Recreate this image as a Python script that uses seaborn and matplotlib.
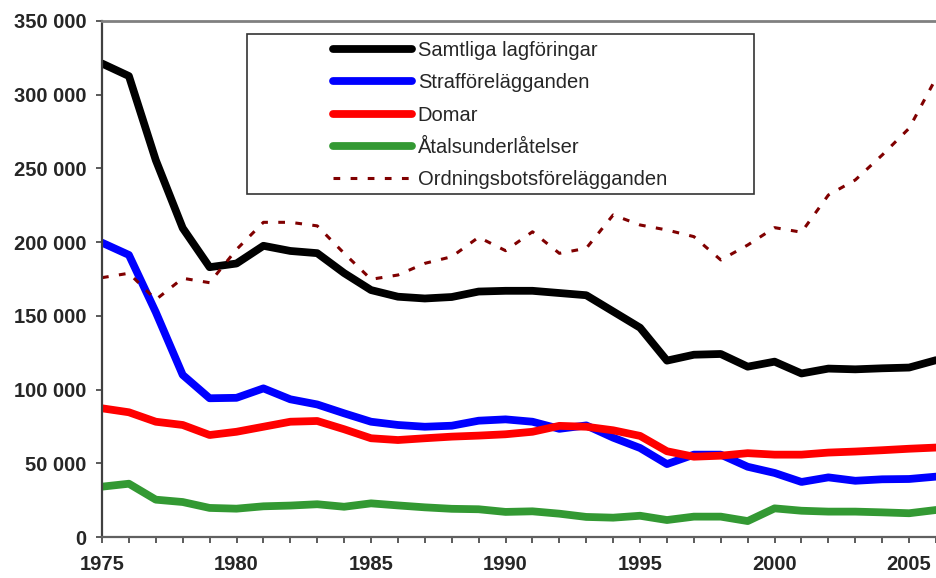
import numpy as np
import pandas as pd
import matplotlib
matplotlib.use("Agg")
import matplotlib.pyplot as plt
from matplotlib.patches import Rectangle
import seaborn as sns

# data
years = np.arange(1975, 2007)
samtliga = [321000, 312500, 255500, 209500, 183000, 185500, 197500, 194000, 192500, 179000,
            167500, 163000, 161800, 162800, 166500, 167000, 167000, 165500, 164000, 153000,
            142000, 119700, 123700, 124200, 115600, 119000, 111000, 114300, 113800, 114500,
            115000, 120000]
straff = [199600, 191300, 152500, 110000, 94200, 94500, 100900, 93500, 90000, 84000,
          78300, 76100, 74900, 75600, 79000, 79900, 78300, 73500, 75800, 67500,
          60500, 49600, 56000, 56000, 47800, 43600, 37500, 40600, 38300, 39300,
          39500, 41100]
domar = [87400, 84700, 78300, 76100, 69300, 71500, 74900, 78300, 78800, 73200,
         67100, 65900, 67100, 68200, 68900, 69800, 71500, 75500, 74900, 72500,
         68700, 58300, 54600, 55300, 57000, 56000, 56000, 57400, 58100, 59000,
         60000, 60800]
atal = [34300, 36300, 25500, 23900, 19900, 19400, 21000, 21500, 22400, 20700,
        23000, 21600, 20300, 19300, 19000, 17200, 17600, 16000, 13800, 13300,
        14600, 11700, 14000, 14000, 11000, 19600, 18000, 17400, 17400, 16900,
        16300, 18500]
ordning = [175900, 178900, 161000, 175500, 172500, 195000, 213400, 213400, 211000, 192400,
           174800, 177700, 185600, 190100, 203300, 194200, 207000, 192400, 195800, 218400,
           211600, 208200, 203700, 187900, 198000, 209800, 206700, 231900, 242100, 259000,
           277100, 311000]

labels = ["Samtliga lagföringar", "Strafförelägganden", "Domar",
          "Åtalsunderlåtelser", "Ordningsbotsförelägganden"]
colors = ["#000000", "#0000ff", "#ff0000", "#339933", "#800000"]

sns.set_style("white")
plt.rcParams["font.family"] = ["Liberation Sans", "DejaVu Sans"]

fig = plt.figure(figsize=(9.36, 5.78), dpi=100)
ax = fig.add_axes([102 / 936, 1 - 537.3 / 578, (936 - 102) / 936, (537.3 - 20.7) / 578])

series = [samtliga, straff, domar, atal, ordning]
for vals, lab, col in zip(series, labels, colors):
    df = pd.DataFrame({"year": years, "value": vals})
    if lab == "Ordningsbotsförelägganden":
        sns.lineplot(data=df, x="year", y="value", ax=ax, color=col, linewidth=2.2,
                     linestyle=(0, (2.2, 3.4)), label=lab)
    else:
        sns.lineplot(data=df, x="year", y="value", ax=ax, color=col, linewidth=5.6,
                     solid_joinstyle="round", solid_capstyle="round", label=lab)

ax.set_xlim(1975, 2006)
ax.set_ylim(0, 350000)
ax.set_xlabel("")
ax.set_ylabel("")

yt = np.arange(0, 350001, 50000)
ax.set_yticks(yt)
ax.set_yticklabels([f"{v:,.0f}".replace(",", " ") for v in yt])
ax.set_xticks(years)
ax.set_xticklabels([str(y) if y % 5 == 0 else "" for y in years])

for lbl in ax.get_xticklabels() + ax.get_yticklabels():
    lbl.set_fontweight("bold")
    lbl.set_fontsize(14.5)

ax.tick_params(axis="both", direction="out", length=4, width=1.2, color="#404040")
ax.tick_params(axis="x", pad=9, bottom=True)
ax.tick_params(axis="y", pad=7, left=True)

ax.spines["left"].set_color("#404040")
ax.spines["left"].set_linewidth(1.6)
ax.spines["bottom"].set_color("#606060")
ax.spines["bottom"].set_linewidth(1.6)
ax.spines["top"].set_color("#808080")
ax.spines["top"].set_linewidth(2)
ax.spines["right"].set_visible(False)

leg = ax.legend(loc="upper left", bbox_to_anchor=(323 / 936, 1 - 31 / 578),
                bbox_transform=fig.transFigure, frameon=False, fontsize=14.5,
                borderpad=0, handlelength=3.9, handletextpad=0.3, labelspacing=0.66)

box = Rectangle((247 / 936, 1 - 194 / 578), (754 - 247) / 936, (194 - 34) / 578,
                transform=fig.transFigure, fill=False, edgecolor="#333333",
                linewidth=1.2, clip_on=False, zorder=5)
ax.add_patch(box)

fig.savefig("out.png", dpi=100)
